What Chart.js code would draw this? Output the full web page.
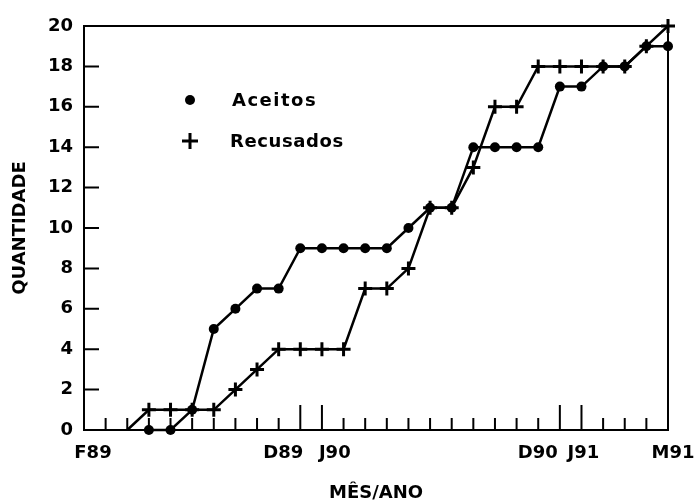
<!DOCTYPE html>
<html>
<head>
<meta charset="utf-8">
<script src="https://cdn.jsdelivr.net/npm/chart.js@4.4.1/dist/chart.umd.min.js"></script>
<style>
  body { margin: 0; background: #fff; }
</style>
</head>
<body>
<canvas id="chart" width="695" height="504"></canvas>
<script>
// months from Feb/89 to May/91 (Portuguese initials)
const months = ['F89', 'M89', 'A89', 'M89', 'J89', 'J89', 'A89', 'S89', 'O89', 'N89', 'D89', 'J90',
  'F90', 'M90', 'A90', 'M90', 'J90', 'J90', 'A90', 'S90', 'O90', 'N90', 'D90', 'J91',
  'F91', 'M91', 'A91', 'M91'];
const shownTicks = [0, 10, 11, 22, 23, 27];
const longTicks = [10, 11, 22, 23];
const yTicks = [0, 2, 4, 6, 8, 10, 12, 14, 16, 18, 20];

const aceitos = [null, null, null, 0, 0, 1, 5, 6, 7, 7, 9, 9, 9, 9, 9, 10, 11, 11, 14, 14, 14, 14, 17, 17, 18, 18, 19, 19];
const recusados = [null, null, 0, 1, 1, 1, 1, 2, 3, 4, 4, 4, 4, 7, 7, 8, 11, 11, 13, 16, 16, 18, 18, 18, 18, 18, 19, 20];

Chart.defaults.font.family = 'DejaVu Sans';
Chart.defaults.font.weight = 'bold';
Chart.defaults.font.size = 18;
Chart.defaults.color = '#000';

// label placement around neighbouring ticks (align, shift in px)
const labelPlace = { 0: ['center', 9], 10: ['right', 3], 11: ['left', -3], 22: ['right', -2], 23: ['center', 2], 27: ['center', 5] };

// frame, inward ticks, month labels and the legend inside the plot
const frameTicks = {
  id: 'frameTicks',
  beforeDatasetsDraw(chart) {
    const { ctx, chartArea: a, scales: { x, y } } = chart;
    ctx.save();
    ctx.strokeStyle = '#000';
    ctx.lineWidth = 2;
    ctx.strokeRect(a.left, a.top, a.right - a.left, a.bottom - a.top);
    ctx.beginPath();
    months.forEach((m, i) => {
      if (i === 0 || i === months.length - 1) return;
      const px = x.getPixelForValue(i);
      const len = longTicks.includes(i) ? 25 : 12;
      ctx.moveTo(px, a.bottom);
      ctx.lineTo(px, a.bottom - len);
    });
    yTicks.forEach(v => {
      if (v === 0 || v === 20) return;
      const py = y.getPixelForValue(v);
      ctx.moveTo(a.left, py);
      ctx.lineTo(a.left + 15, py);
    });
    ctx.stroke();

    ctx.fillStyle = '#000';
    ctx.font = 'bold 18px "DejaVu Sans"';
    ctx.textBaseline = 'middle';
    shownTicks.forEach(i => {
      const [align, dx] = labelPlace[i];
      ctx.textAlign = align;
      ctx.fillText(months[i], x.getPixelForValue(i) + dx, a.bottom + 23);
    });
    ctx.restore();
  },
  afterDatasetsDraw(chart) {
    const ctx = chart.ctx;
    const ds = chart.data.datasets;
    ctx.save();
    ctx.fillStyle = '#000';
    ctx.strokeStyle = '#000';
    ctx.font = 'bold 18px "DejaVu Sans"';
    ctx.textBaseline = 'middle';
    // Aceitos
    ctx.beginPath();
    ctx.arc(190, 100, 5, 0, Math.PI * 2);
    ctx.fill();
    ctx.letterSpacing = '1.5px';
    ctx.fillText(ds[0].label, 232, 101);
    // Recusados
    ctx.lineWidth = 3;
    ctx.beginPath();
    ctx.moveTo(182, 141); ctx.lineTo(198, 141);
    ctx.moveTo(190, 133); ctx.lineTo(190, 149);
    ctx.stroke();
    ctx.letterSpacing = '0.6px';
    ctx.fillText(ds[1].label, 230, 142);
    ctx.restore();
  }
};

new Chart(document.getElementById('chart'), {
  type: 'line',
  data: {
    labels: months,
    datasets: [{
      label: 'Aceitos',
      data: aceitos,
      borderColor: '#000',
      backgroundColor: '#000',
      borderWidth: 2.5,
      pointStyle: 'circle',
      pointRadius: 5,
      pointBorderWidth: 0,
      tension: 0,
      clip: false
    }, {
      label: 'Recusados',
      data: recusados,
      borderColor: '#000',
      backgroundColor: '#000',
      borderWidth: 2.5,
      pointStyle: 'cross',
      pointRadius: ctx => ctx.dataIndex === 2 ? 0 : 7,
      pointBorderWidth: 3,
      tension: 0,
      clip: false
    }]
  },
  options: {
    responsive: false,
    animation: false,
    layout: { padding: { left: 0, right: 27, top: 26, bottom: 0 } },
    plugins: {
      legend: { display: false },
      tooltip: { enabled: false }
    },
    scales: {
      x: {
        offset: false,
        grid: { display: false },
        border: { display: false },
        ticks: {
          autoSkip: false,
          maxRotation: 0,
          callback: () => ''
        },
        title: {
          display: true,
          text: 'MÊS/ANO',
          padding: { top: 0, bottom: 0 }
        },
        afterFit: s => { s.height = 74; }
      },
      y: {
        min: 0,
        max: 20,
        grid: { display: false },
        border: { display: false },
        ticks: { stepSize: 2, padding: 3 },
        title: {
          display: true,
          text: 'QUANTIDADE',
          padding: { top: 10, bottom: 0 }
        },
        afterFit: s => { s.width = 84; }
      }
    }
  },
  plugins: [frameTicks]
});
</script>
</body>
</html>
